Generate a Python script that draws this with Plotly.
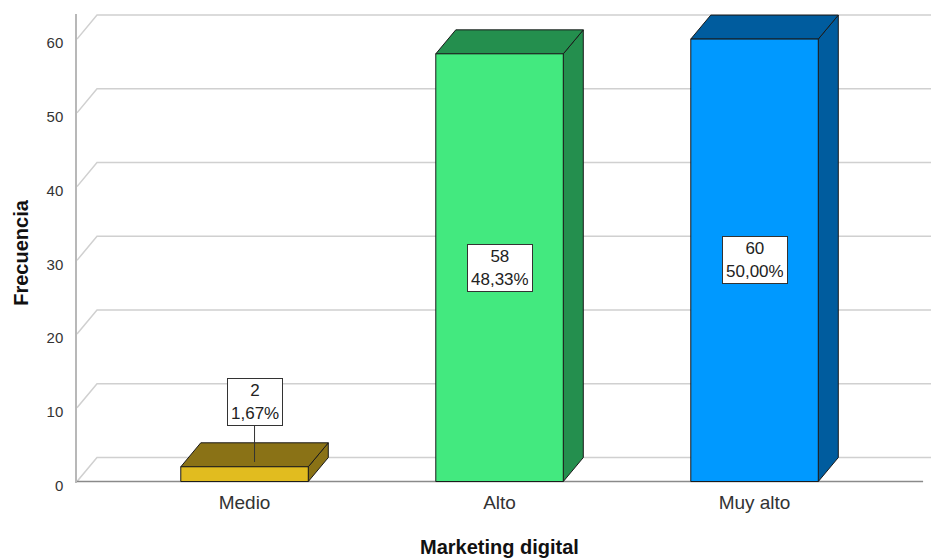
import plotly.graph_objects as go

# Frequency table: Marketing digital
categories = ["Medio", "Alto", "Muy alto"]
frequencies = [2, 58, 60]
y_ticks = [0, 10, 20, 30, 40, 50, 60]

front_colors = ["#E1BC1F", "#43E97F", "#0099FF"]
shade_colors = ["#8A7216", "#248F4E", "#005C9E"]

FONT = "Liberation Sans, Arial, sans-serif"

# Canvas and plotting-area geometry (pixels)
W, H = 931, 558
LEFT = 77
X_RANGE = [-0.657, 2.692]
Y_RANGE = [-0.2, 63.4]
Y0_PX = 482          # pixel row of the value 0
PX_PER_UNIT_Y = 7.383

top_margin = Y0_PX - Y_RANGE[1] * PX_PER_UNIT_Y
bottom_margin = H - (Y0_PX - Y_RANGE[0] * PX_PER_UNIT_Y)
px_per_unit_x = (W - LEFT) / (X_RANGE[1] - X_RANGE[0])

# 3D depth offset of the pseudo-perspective (pixels -> data units)
DX = 20 / px_per_unit_x
DY = 24 / PX_PER_UNIT_Y
BAR_W = 0.5
FLOOR_END = 2.661

fig = go.Figure()

def poly(xs, ys, fill, line_color="#1a1a1a", width=1):
    fig.add_trace(go.Scatter(
        x=xs, y=ys, mode="lines", fill="toself", fillcolor=fill,
        line=dict(color=line_color, width=width),
        hoverinfo="skip", showlegend=False))

def line(xs, ys, color, width):
    fig.add_trace(go.Scatter(
        x=xs, y=ys, mode="lines", line=dict(color=color, width=width),
        hoverinfo="skip", showlegend=False))

# Back wall gridlines with their diagonal floor connectors
for v in y_ticks:
    line([X_RANGE[0], X_RANGE[0] + DX, X_RANGE[1] + DX],
         [v, v + DY, v + DY], "#d0d0d0", 1.5)

# Front floor edge
line([X_RANGE[0], FLOOR_END], [0, 0], "#8a8a8a", 1.5)

# 3D bars: front face, top face, side face
for i, v in enumerate(frequencies):
    x0, x1 = i - BAR_W / 2, i + BAR_W / 2
    poly([x1, x1 + DX, x1 + DX, x1, x1], [0, DY, v + DY, v, 0], shade_colors[i])
    poly([x0, x1, x1 + DX, x0 + DX, x0], [v, v, v + DY, v + DY, v], shade_colors[i])
    poly([x0, x1, x1, x0, x0], [0, 0, v, v, 0], front_colors[i])

# Value labels: count and percentage
total = sum(frequencies)
for i, v in enumerate(frequencies):
    pct = f"{100 * v / total:.2f}".replace(".", ",")
    text = f"{v}<br>{pct}%"
    common = dict(text=text, font=dict(family=FONT, size=17, color="#222"),
                  bgcolor="white", bordercolor="#333", borderwidth=1,
                  borderpad=3, height=40, xref="x", yref="y")
    if v * PX_PER_UNIT_Y > 80:
        fig.add_annotation(x=i, y=v / 2, showarrow=False, **common)
    else:
        fig.add_annotation(x=i + DX / 2, y=v + DY * 0.2, showarrow=True,
                           arrowhead=0, arrowwidth=1, arrowcolor="#333",
                           ax=0, ay=-60, standoff=0, startstandoff=0, **common)

# Axis titles
fig.add_annotation(text="<b>Marketing digital</b>", xref="paper", yref="paper",
                   x=(499 - LEFT) / (W - LEFT), y=0, yanchor="middle",
                   yshift=-(545 - Y0_PX) + Y_RANGE[0] * PX_PER_UNIT_Y,
                   showarrow=False, font=dict(family=FONT, size=20, color="#111"))
fig.add_annotation(text="<b>Frecuencia</b>", xref="paper", yref="paper",
                   x=0, xanchor="center", xshift=21 - LEFT,
                   y=(Y0_PX - 253 - Y_RANGE[0] * PX_PER_UNIT_Y) / (H - top_margin - bottom_margin),
                   textangle=-90, showarrow=False,
                   font=dict(family=FONT, size=20, color="#111"))

fig.update_layout(
    width=W, height=H,
    margin=dict(l=LEFT, r=0, t=top_margin, b=bottom_margin, pad=0),
    paper_bgcolor="white", plot_bgcolor="white",
    showlegend=False,
    xaxis=dict(range=X_RANGE, tickvals=list(range(len(categories))),
               ticktext=categories, showgrid=False, zeroline=False,
               showline=False, ticks="", ticklabelstandoff=6,
               tickfont=dict(family=FONT, size=19, color="#333"),
               fixedrange=True),
    yaxis=dict(range=Y_RANGE, tickvals=y_ticks, showgrid=False,
               zeroline=False, showline=True, linecolor="#b8b8b8",
               linewidth=1.5, ticks="", ticklabelstandoff=9,
               ticklabelshift=4,
               tickfont=dict(family=FONT, size=15, color="#333"),
               fixedrange=True),
)

fig.write_html("out.html")
